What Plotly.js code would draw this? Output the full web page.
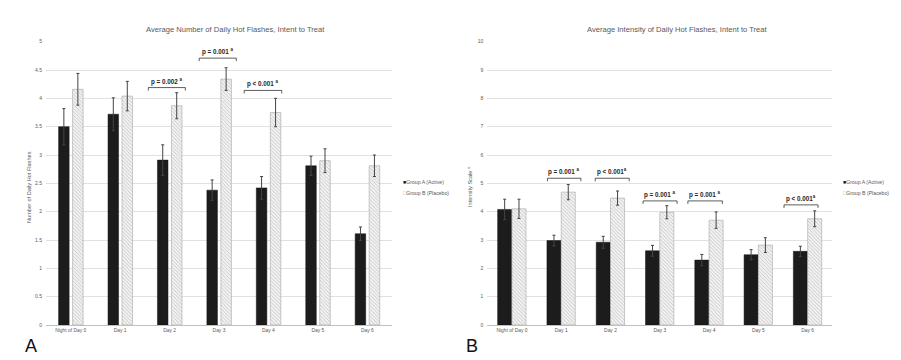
<!DOCTYPE html>
<html>
<head>
<meta charset="utf-8">
<script src="https://cdn.plot.ly/plotly-3.0.1.min.js"></script>
<style>html,body{margin:0;padding:0;background:#fff;}#chart{width:901px;height:360px;}</style>
</head>
<body>
<div id="chart"></div>
<script>
// ---------- data ----------
const categories = ['Night of Day 0', 'Day 1', 'Day 2', 'Day 3', 'Day 4', 'Day 5', 'Day 6'];

// Panel A: average number of daily hot flashes
const countActive      = [3.50, 3.72, 2.91, 2.38, 2.42, 2.81, 1.61];
const countActiveErr   = [0.32, 0.29, 0.27, 0.18, 0.20, 0.17, 0.12];
const countPlacebo     = [4.16, 4.04, 3.87, 4.34, 3.75, 2.90, 2.81];
const countPlaceboErr  = [0.28, 0.26, 0.23, 0.20, 0.25, 0.21, 0.19];

// Panel B: average intensity of daily hot flashes
const intenActive      = [4.08, 2.98, 2.92, 2.62, 2.29, 2.48, 2.60];
const intenActiveErr   = [0.36, 0.19, 0.21, 0.19, 0.20, 0.18, 0.18];
const intenPlacebo     = [4.10, 4.69, 4.48, 3.98, 3.70, 2.82, 3.75];
const intenPlaceboErr  = [0.34, 0.27, 0.25, 0.23, 0.29, 0.26, 0.28];

// significance labels
const countPCats   = ['Day 2', 'Day 3', 'Day 4'];
const countPTexts  = ['p = 0.002 <sup>a</sup>', 'p = 0.001 <sup>a</sup>', 'p < 0.001 <sup>a</sup>'];
const countPLevels = [4.19, 4.71, 4.14];

const intenPCats   = ['Day 1', 'Day 2', 'Day 3', 'Day 4', 'Day 6'];
const intenPTexts  = ['p = 0.001 <sup>a</sup>', 'p < 0.001<sup>a</sup>', 'p = 0.001 <sup>a</sup>', 'p = 0.001 <sup>a</sup>', 'p < 0.001<sup>a</sup>'];
const intenPLevels = [5.18, 5.18, 4.38, 4.38, 4.24];

const seriesNames = ['Group A (Active)', 'Group B (Placebo)'];
const titleA = 'Average Number of Daily Hot Flashes, Intent to Treat';
const titleB = 'Average Intensity of Daily Hot Flashes, Intent to Treat';
const yTitleA = 'Number of Daily Hot Flashes';
const yTitleB = 'Intensity Scale <sup>a</sup>';

// ---------- styling / layout ----------
const bracketSpanA = [[-0.43, 0.32], [-0.40, 0.35], [-0.49, 0.27]];
const bracketSpanB = [[-0.28, 0.40], [-0.31, 0.38], [-0.34, 0.35], [-0.43, 0.27], [-0.48, 0.21]];

const dark = '#1c1c1c';
const grey = '#595959';
const errStyle = (arr) => ({type: 'data', array: arr, visible: true, color: '#444', thickness: 1, width: 1.5});
const activeMarker = {color: dark, line: {color: '#111', width: 0.5}};
const placeboMarker = {
  color: '#f2f2f2',
  line: {color: '#a6a6a6', width: 0.6},
  pattern: {shape: '\\', fgcolor: '#bdbdbd', bgcolor: '#f2f2f2', size: 2.5, solidity: 0.3}
};

const traces = [
  {type: 'bar', x: categories, y: countActive, name: seriesNames[0], xaxis: 'x', yaxis: 'y',
   width: 0.213, offset: -0.245, marker: activeMarker, error_y: errStyle(countActiveErr), showlegend: false},
  {type: 'bar', x: categories, y: countPlacebo, name: seriesNames[1], xaxis: 'x', yaxis: 'y',
   width: 0.213, offset: 0.038, marker: placeboMarker, error_y: errStyle(countPlaceboErr), showlegend: false},
  {type: 'bar', x: categories, y: intenActive, name: seriesNames[0], xaxis: 'x2', yaxis: 'y2',
   width: 0.285, offset: -0.29, marker: activeMarker, error_y: errStyle(intenActiveErr), showlegend: false},
  {type: 'bar', x: categories, y: intenPlacebo, name: seriesNames[1], xaxis: 'x2', yaxis: 'y2',
   width: 0.285, offset: 0.0, marker: placeboMarker, error_y: errStyle(intenPlaceboErr), showlegend: false}
];

const shapes = [];
const annotations = [];

function addBrackets(cats, texts, levels, spans, xref, yref) {
  cats.forEach((c, i) => {
    const idx = categories.indexOf(c);
    const x0 = idx + spans[i][0], x1 = idx + spans[i][1];
    const lineStyle = {color: '#333', width: 0.8};
    shapes.push({type: 'line', xref, yref, x0, x1, y0: levels[i], y1: levels[i], line: lineStyle});
    [x0, x1].forEach(xx => shapes.push({type: 'line', xref, yref, x0: xx, x1: xx,
      ysizemode: 'pixel', yanchor: levels[i], y0: 0, y1: -3, line: lineStyle}));
    annotations.push({xref, yref, x: (x0 + x1) / 2, y: levels[i], text: texts[i], showarrow: false,
      xanchor: 'center', yanchor: 'bottom', yshift: 0,
      font: {family: 'Liberation Sans, Arial', size: 6.3, color: '#262626', weight: 'bold'}});
  });
}
addBrackets(countPCats, countPTexts, countPLevels, bracketSpanA, 'x', 'y');
addBrackets(intenPCats, intenPTexts, intenPLevels, bracketSpanB, 'x2', 'y2');

function paperText(xpx, ypx, text, font, extra) {
  annotations.push(Object.assign({xref: 'paper', yref: 'paper', x: xpx / 901, y: 1 - ypx / 360,
    text, showarrow: false, xanchor: 'center', yanchor: 'middle', font}, extra || {}));
}

const titleFont = {family: 'Liberation Sans, Arial', size: 7.6, color: grey};
paperText(235, 29, titleA, titleFont);
paperText(677, 29, titleB, titleFont);

const yTitleFont = {family: 'Liberation Sans, Arial', size: 5.6, color: grey};
paperText(29, 187, yTitleA, yTitleFont, {textangle: -90});
paperText(469, 187, yTitleB, yTitleFont, {textangle: -90});

// legends (drawn as text)
const legFont = {family: 'Liberation Sans, Arial', size: 5.2, color: grey};
function addLegend(xpx) {
  paperText(xpx, 182, '<span style="color:#1c1c1c">■</span>' + seriesNames[0], legFont, {xanchor: 'left'});
  paperText(xpx, 192.5, '<span style="color:#b0b0b0">□</span>' + seriesNames[1], legFont, {xanchor: 'left'});
}
addLegend(401);
addLegend(841);

// panel letters
const letterFont = {family: 'Liberation Sans, Arial', size: 18, color: '#111'};
paperText(31, 345.5, 'A', letterFont);
paperText(472.5, 345.5, 'B', letterFont);

const xAxisBase = {
  type: 'category', showgrid: false, showline: true, linecolor: '#bfbfbf', linewidth: 1,
  ticks: '', tickfont: {family: 'Liberation Sans, Arial', size: 4.9, color: grey}, zeroline: false, fixedrange: true
};
const yAxisBase = {
  domain: [35 / 360, 1 - 41.7 / 360], showgrid: true, gridcolor: '#d9d9d9', gridwidth: 0.8,
  showline: false, zeroline: false, ticks: '', tickfont: {family: 'Liberation Sans, Arial', size: 5, color: grey},
  ticklabelstandoff: 3, fixedrange: true
};

const layout = {
  width: 901, height: 360,
  margin: {l: 0, r: 0, t: 0, b: 0},
  paper_bgcolor: '#fff', plot_bgcolor: '#fff',
  showlegend: false,
  barmode: 'group',
  xaxis: Object.assign({}, xAxisBase, {domain: [46 / 901, 392 / 901], anchor: 'y'}),
  yaxis: Object.assign({}, yAxisBase, {range: [0, 5], dtick: 0.5, anchor: 'x'}),
  xaxis2: Object.assign({}, xAxisBase, {domain: [487.3 / 901, 832.3 / 901], anchor: 'y2'}),
  yaxis2: Object.assign({}, yAxisBase, {range: [0, 10], dtick: 1, anchor: 'x2'}),
  shapes, annotations
};

Plotly.newPlot('chart', traces, layout, {staticPlot: true, displayModeBar: false});
</script>
</body>
</html>
